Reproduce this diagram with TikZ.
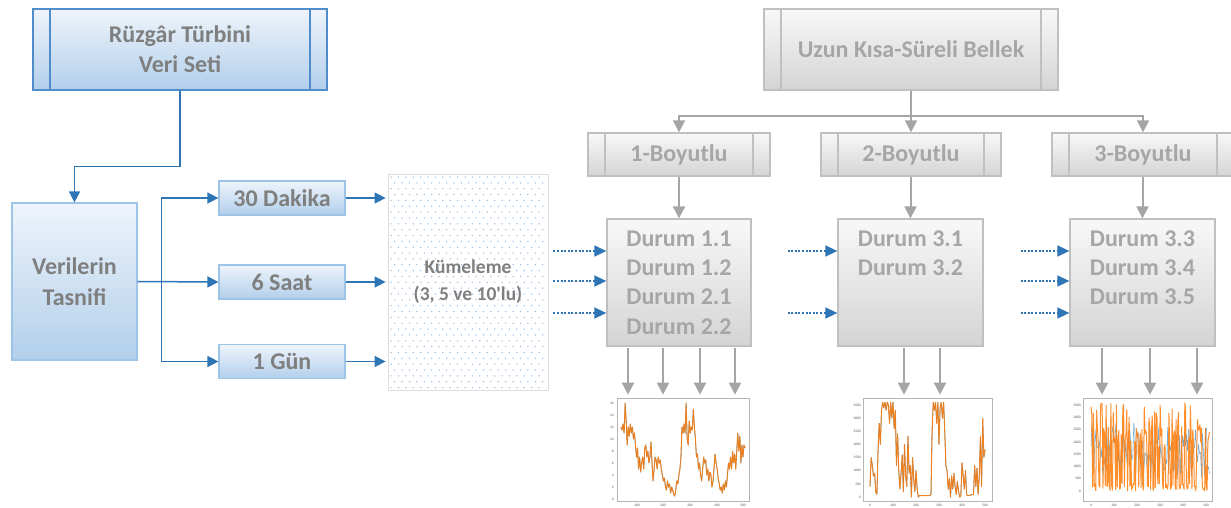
\documentclass[tikz,border=0pt]{standalone}
\usepackage{fontspec}
\setmainfont{Carlito}
\newfontfamily\plaincarlito{Carlito}[Ligatures=TeXOff]
\usetikzlibrary{arrows.meta}

\definecolor{bluetop}{HTML}{EEF4FB}
\definecolor{bluebot}{HTML}{B2CFEB}
\definecolor{blueedge}{HTML}{4F8CC9}
\definecolor{blueedgelight}{HTML}{9DC3E6}
\definecolor{bluearrow}{HTML}{2E75B6}
\definecolor{txtgray}{HTML}{7F7F7F}
\definecolor{txtlight}{HTML}{A6A6A6}
\definecolor{graytop}{HTML}{F8F8F8}
\definecolor{graybot}{HTML}{D4D4D4}
\definecolor{grayedge}{HTML}{C0C0C0}
\definecolor{grayarrow}{HTML}{A5A5A5}
\definecolor{dotblue}{HTML}{93BCE3}
\definecolor{kmedge}{HTML}{DDDDDD}
\definecolor{plotorange}{HTML}{FF7F0E}
\definecolor{plotblue}{HTML}{1F77B4}
\definecolor{plotedge}{HTML}{B5B5B5}
\definecolor{ticktext}{HTML}{555555}

\begin{document}
\begin{tikzpicture}[x=1pt,y=-1pt,
  every node/.style={inner sep=0pt},
  bigfont/.style={font=\bfseries\fontsize{24}{30}\selectfont},
  bluebox/.style={draw=blueedgelight, line width=1.2pt, top color=bluetop,
    bottom color=bluebot, bigfont, text=txtgray, align=center},
  bluepred/.style={draw=blueedge, line width=1.2pt, top color=bluetop,
    bottom color=bluebot, bigfont, text=txtgray, align=center,
    path picture={\draw[blueedge, line width=1.2pt]
      ([xshift=17pt]path picture bounding box.north west) -- ([xshift=17pt]path picture bounding box.south west)
      ([xshift=-17pt]path picture bounding box.north east) -- ([xshift=-17pt]path picture bounding box.south east);}},
  graybox/.style={draw=grayedge, line width=1.3pt, top color=graytop,
    bottom color=graybot},
  graypred/.style={graybox, bigfont, text=txtlight, align=center,
    path picture={\draw[grayedge, line width=1.3pt]
      ([xshift=17pt]path picture bounding box.north west) -- ([xshift=17pt]path picture bounding box.south west)
      ([xshift=-17pt]path picture bounding box.north east) -- ([xshift=-17pt]path picture bounding box.south east);}},
  durumtext/.style={bigfont, text=txtlight},
  bluearr/.style={draw=bluearrow, line width=1.5pt, -{Triangle[length=11pt,width=11pt]}},
  dotarr/.style={draw=bluearrow, line width=1.5pt, dash pattern=on 2pt off 1.6pt,
    -{Triangle[length=12pt,width=11pt]}},
  grayarr/.style={draw=grayarrow, line width=2pt, -{Triangle[length=12pt,width=12pt]}},
  plotframe/.style={draw=plotedge, line width=0.7pt, fill=white},
  ticklbl/.style={font=\fontsize{3.6}{4}\selectfont, text=ticktext},
  orangeline/.style={draw=plotorange, line width=1pt, opacity=0.88, line join=round},
  blueline/.style={draw=plotblue, line width=0.6pt, line join=round}
]
\useasboundingbox (0,0) rectangle (1231,508);

% ---------- left part: data set and classification ----------
\node[bluepred, minimum width=294pt, minimum height=81pt] (rt) at (180,49.5)
  {Rüzgâr Türbini\\Veri Seti};
\node[bluebox, minimum width=125pt, minimum height=157pt,
  font=\bfseries\fontsize{24}{31}\selectfont] (vt) at (74.5,281.5) {Verilerin\\Tasnifi};

\node[bluebox, minimum width=126pt, minimum height=34pt] (d30) at (282,198) {30 Dakika};
\node[bluebox, minimum width=126pt, minimum height=34pt] (s6) at (282,282) {6 Saat};
\node[bluebox, minimum width=126pt, minimum height=34pt] (g1) at (282,361.5) {1 Gün};

% clustering block with dotted pattern
\foreach \r in {0,...,36} {
  \pgfmathsetmacro\yy{177+5.85*\r}
  \pgfmathsetmacro\off{mod(\r,2)*3.7}
  \foreach \c in {0,...,20} {
    \fill[dotblue] ({391+\off+7.4*\c},\yy) circle (0.75pt);
  }
}
\node[draw=kmedge, line width=0.8pt, minimum width=160pt, minimum height=216pt,
  align=center, text=txtgray, font=\plaincarlito\bfseries\fontsize{19.5}{27}\selectfont]
  (km) at (468,282) {Kümeleme\\(3, 5 ve 10'lu)};

\draw[bluearr] (rt.south) -- ++(0,76) -| (vt.north);
\draw[bluearr] (vt.east) -- ++(24,0) |- (d30.west);
\draw[bluearr] (vt.east) -- (s6.west);
\draw[bluearr] (vt.east) -- ++(24,0) |- (g1.west);
\draw[bluearr, shorten >=2pt] (d30.east) -- (d30.east -| km.west);
\draw[bluearr, shorten >=2pt] (s6.east) -- (s6.east -| km.west);
\draw[bluearr, shorten >=2pt] (g1.east) -- (g1.east -| km.west);

% ---------- right part: LSTM models ----------
\node[graypred, minimum width=294pt, minimum height=81pt] (lstm) at (911,49.5)
  {Uzun Kısa-Süreli Bellek};
\node[graypred, minimum width=182pt, minimum height=43pt] (b1d) at (679,154.5) {1-Boyutlu};
\node[graypred, minimum width=180pt, minimum height=43pt] (b2d) at (911,154.5) {2-Boyutlu};
\node[graypred, minimum width=182pt, minimum height=43pt] (b3d) at (1143,154.5) {3-Boyutlu};

\node[graybox, minimum width=144pt, minimum height=127pt] (c1) at (679,282.5) {};
\node[graybox, minimum width=145pt, minimum height=127pt] (c2) at (910.5,282.5) {};
\node[graybox, minimum width=145pt, minimum height=127pt] (c3) at (1142.5,282.5) {};

\node[durumtext] (t11) at (679,239) {Durum 1.1};
\node[durumtext] (t12) at (679,268) {Durum 1.2};
\node[durumtext] (t21) at (679,297) {Durum 2.1};
\node[durumtext] (t22) at (679,327) {Durum 2.2};
\node[durumtext] (t31) at (910.5,239) {Durum 3.1};
\node[durumtext] (t32) at (910.5,268) {Durum 3.2};
\node[durumtext] (t33) at (1142.5,239) {Durum 3.3};
\node[durumtext] (t34) at (1142.5,268) {Durum 3.4};
\node[durumtext] (t35) at (1142.5,297) {Durum 3.5};

\draw[grayarr] (lstm.south) -- ++(0,25) -| (b1d.north);
\draw[grayarr] (lstm.south) -- (b2d.north);
\draw[grayarr] (lstm.south) -- ++(0,25) -| (b3d.north);
\draw[grayarr] (b1d.south) -- (c1.north);
\draw[grayarr] (b2d.south -| c2.north) -- (c2.north);
\draw[grayarr] (b3d.south -| c3.north) -- (c3.north);

% dotted inputs from the clustering stage
\coordinate (ia) at ([yshift=31.5pt]c1.west);
\coordinate (ib) at ([yshift=1.5pt]c1.west);
\coordinate (ic) at ([yshift=-30.5pt]c1.west);
\draw[dotarr, shorten <=5pt] (ia -| km.east) -- (ia);
\draw[dotarr, shorten <=5pt] (ib -| km.east) -- (ib);
\draw[dotarr, shorten <=5pt] (ic -| km.east) -- (ic);
\draw[dotarr, shorten <=36pt] (ia -| c1.east) -- (ia -| c2.west);
\draw[dotarr, shorten <=36pt] (ic -| c1.east) -- (ic -| c2.west);
\draw[dotarr, shorten <=37pt] (ia -| c2.east) -- (ia -| c3.west);
\draw[dotarr, shorten <=37pt] (ib -| c2.east) -- (ib -| c3.west);
\draw[dotarr, shorten <=37pt] (ic -| c2.east) -- (ic -| c3.west);

% ---------- result plots ----------
\node[plotframe, minimum width=132pt, minimum height=103pt] (p1) at (683,449.5) {};
\node[plotframe, minimum width=129pt, minimum height=103pt] (p2) at (927.5,449.5) {};
\node[plotframe, minimum width=129pt, minimum height=103pt] (p3) at (1147.5,449.5) {};

\foreach \dx in {-51,-16,21,56}
  \draw[grayarr, shorten <=1.5pt, shorten >=3pt] ([xshift=\dx pt]c1.south) -- ([xshift=\dx pt]c1.south |- p1.north);
\foreach \dx in {-6.5,29.5}
  \draw[grayarr, shorten <=1.5pt, shorten >=3pt] ([xshift=\dx pt]c2.south) -- ([xshift=\dx pt]c2.south |- p2.north);
\foreach \dx in {-40.5,7.5,54.5}
  \draw[grayarr, shorten <=1.5pt, shorten >=3pt] ([xshift=\dx pt]c3.south) -- ([xshift=\dx pt]c3.south |- p3.north);

% plot 1: wind speed series
\foreach \v in {0,2,...,16}
  \node[ticklbl, anchor=east] (ya\v) at (614,{499-6*\v}) {\v};
\foreach \v/\xx in {100/637,200/663,300/690,400/717,500/743}
  \node[ticklbl] (xa\v) at (\xx,505) {\v};
\begin{scope}[shift={(621,499)}, x=0.2067pt, y=6pt]
  \def\seriesA{(0,12) (5,11.5) (10,12.5) (15,11) (20,16) (25,13) (30,9) (35,12) (40,10.5) (45,12.5) (50,11) (55,12) (60,10) (65,11) (70,9) (75,7) (80,8.5) (85,5) (90,7) (95,4.5) (100,6) (105,7) (110,5) (115,8.5) (120,9) (125,7) (130,8) (135,6) (140,7) (145,9.5) (150,6) (155,3) (160,5) (165,7) (170,6.5) (175,5) (180,7) (185,6) (190,6.5) (195,5) (200,4) (205,3) (210,3.5) (215,2) (220,1.5) (225,3) (230,2) (235,2.5) (240,1) (245,2) (250,1.5) (255,0.8) (260,0.5) (265,1.5) (270,3) (275,2.5) (280,4) (285,5) (290,7) (295,12) (300,11) (305,12.5) (310,11) (315,16) (320,10) (325,9) (330,13) (335,11) (340,12) (345,11.5) (350,15) (355,12) (360,10) (365,7) (370,7.5) (375,5) (380,6) (385,4) (390,3) (395,5) (400,7) (405,6) (410,6.5) (415,4) (420,5) (425,3) (430,4.5) (435,4) (440,2) (445,3) (450,5) (455,7.5) (460,6) (465,5) (470,3.5) (475,2.5) (480,1.5) (485,2) (490,1) (495,2.5) (500,1.5) (505,3) (510,2) (515,4) (520,6) (525,5) (530,7) (535,5) (540,8) (545,6) (550,7.5) (555,5) (560,8) (565,11) (570,8) (575,10.5) (580,6) (585,9) (590,7) (595,9) (600,8.5)}
  \draw[blueline] plot coordinates {\seriesA};
  \draw[orangeline] plot coordinates {\seriesA};
\end{scope}

% plot 2: power series
\foreach \v in {0,500,...,3500}
  \node[ticklbl, anchor=east] (yb\v) at (861,{497-0.0263*\v}) {\v};
\foreach \v in {0,100,...,500}
  \node[ticklbl] (xb\v) at ({870+0.23*\v},505) {\v};
\begin{scope}[shift={(870,497)}, x=0.23pt, y=0.0263pt]
  \def\seriesB{(0,400) (5,1500) (10,1200) (15,800) (20,900) (25,200) (30,100) (35,1800) (40,2800) (45,2000) (50,3300) (55,3600) (60,3400) (65,3600) (70,3300) (75,3600) (80,3500) (85,2800) (90,3600) (95,3000) (100,3600) (105,2600) (110,3300) (115,1200) (120,2400) (125,1000) (130,300) (135,900) (140,1600) (145,200) (150,2000) (155,800) (160,400) (165,2300) (170,900) (175,1200) (180,0) (185,1500) (190,700) (195,200) (200,1000) (205,300) (210,0) (215,50) (230,50) (250,50) (260,50) (265,100) (270,2500) (275,3600) (280,3300) (285,3600) (290,2800) (295,3600) (300,2000) (305,3400) (310,3600) (315,3000) (320,3600) (325,2500) (330,1200) (335,1000) (340,300) (345,700) (350,0) (355,800) (360,300) (365,900) (370,400) (375,100) (380,600) (385,200) (390,0) (395,50) (400,1300) (405,800) (410,300) (415,1000) (420,100) (425,50) (450,100) (455,1200) (460,400) (465,1100) (470,100) (475,800) (480,2300) (485,400) (490,3000) (495,1500) (500,1800)}
  \draw[blueline] plot coordinates {\seriesB};
  \draw[orangeline] plot coordinates {\seriesB};
\end{scope}

% plot 3: strongly fluctuating series
\foreach \v in {0,500,...,3500}
  \node[ticklbl, anchor=east] (yc\v) at (1081,{491-0.02457*\v}) {\v};
\foreach \v in {0,100,...,500}
  \node[ticklbl] (xc\v) at ({1091+0.23*\v},505) {\v};
\begin{scope}[shift={(1091,491)}, x=0.23pt, y=0.02457pt]
  \pgfmathsetseed{4217}
  \draw[blueline, opacity=0.6] plot[domain=0:515, samples=120, variable=\t] (\t,{500+2300*rnd});
  \draw[orangeline] plot[domain=0:515, samples=150, variable=\t]
    (\t,{ifthenelse(rnd<0.5, 300*rnd, 1700+1900*rnd)});
\end{scope}
\end{tikzpicture}
\end{document}
